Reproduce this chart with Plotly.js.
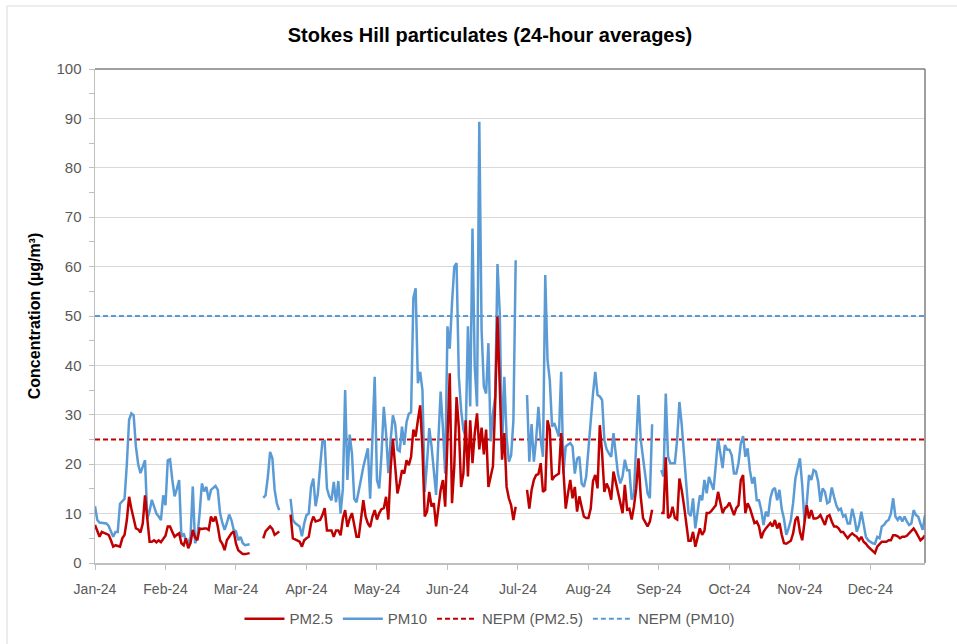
<!DOCTYPE html>
<html>
<head>
<meta charset="utf-8">
<script src="https://cdn.plot.ly/plotly-3.0.1.min.js"></script>
<style>html,body{margin:0;padding:0;background:#fff;}#chart{width:957px;height:644px;}</style>
</head>
<body>
<div id="chart"></div>
<script>
// Daily 24-hour averages, 1 Jan 2024 .. 31 Dec 2024 (366 days), null = no data
const startDate = '2024-01-01';
const pm10 = [
11.5, 8.7, 8.2, 8.1, 8.0, 8.0, 7.5, 6.5, 5.3, 6.3,
6.3, 12, 12.5, 13, 20, 29, 30.3, 29.9, 23.5, 20,
18.2, 19.5, 20.8, 9, 10.5, 12.8, 11.4, 10, 9.4, 8.7,
13.7, 11.7, 20.8, 21, 16.8, 13.5, 15, 16.8, 5.3, 6,
4.5, 4, 5.3, 15.5, 4, 5.3, 10, 16.1, 14.5, 15.4,
12.7, 14.8, 15.2, 15.6, 14.8, 10.1, 8.1, 6.7, 8.1, 9.8,
8.7, 6.7, 6.4, 4.6, 5.3, 4, 3.6, 3.7, 3.8, null,
null, null, null, null, 13.2, 13.7, 17.4, 22.5, 21.2, 14.8,
12, 10.7, null, null, null, null, 13, 8.7, 8.1, 7.8,
7.4, 5.4, 8, 9.7, 10, 15.4, 17.1, 11.5, 14, 19.5,
24.6, 24.7, 15.1, 13.5, 12.7, 16.4, 12.3, 16.6, 10, 15,
35, 16.8, 26, 22.2, 13, 12.3, 15.1, 17, 19.5, 21.5,
23.2, 13, 24.6, 37.7, 16.8, 15.1, 22, 31.6, 26.2, 18.2,
24.9, 29.9, 28.1, 22.9, 22.6, 27.6, 23.9, 28.5, 30.2, 30.5,
53.6, 55.6, 36.4, 38.7, 35, 14.4, 20.2, 27.3, 23.6, 18,
13.8, 24.9, 34.7, 27.3, 18.1, 47.9, 43.4, 52.6, 60, 60.7,
37.7, 31, 27, 25.6, 47.9, 31.7, 67.7, 39.7, 31.7, 89.3,
47.2, 35.7, 34.3, 44.5, 24.6, 30.3, 33.7, 60.5, 50.5, 22.9,
37.7, 25.6, 20.5, 21.8, 28.9, 61.3, null, null, null, null,
34, 20.5, 28.1, 20.5, 25, 31.6, 24.9, 21.5, 58.3, 41.1,
37, 27.6, 28.3, 27, 25.6, 38.7, 18.1, 23.6, 24, 24.3,
23.6, 18.1, 21.1, 21.5, 16.1, 15.4, 17.5, 22.9, 30, 34.3,
38.7, 34, 33.7, 33, 24.9, 23, 22.2, 21.5, 26.3, 21.5,
18, 16.1, 17.5, 20.9, 18.8, 18.8, 12.8, 14.1, 24.2, 34,
24.9, 20.9, 16.8, 14.1, 13.1, 28.1, null, null, null, 18.8,
17.5, 34.3, 21.5, 20.2, 20.2, 20.2, 24.9, 32.6, 28.1, 22.2,
16.8, 10.1, 9.5, 13.1, 7, 10.1, 13.7, 12.7, 16.8, 14.1,
17.4, 16.1, 14.8, 19.8, 25.2, 22.2, 19.2, 23.9, 22.9, 22.9,
21.8, 18.1, 18.1, 20.2, 24.2, 25.7, 21.5, 23.2, 18.8, 16.1,
17.4, 12.7, 12.7, 10.7, 7.7, 10.4, 9.4, 13.1, 14.8, 15.2,
12.7, 14.8, 10.9, 8.9, 5.7, 7, 8.7, 12.1, 17.1, 19.2,
21.2, 15.8, 8.4, 12.1, 17.8, 16.8, 18.8, 18.5, 16.5, 12.4,
15.1, 14.4, 12.1, 12.4, 15.3, 13.4, 11.7, 10.7, 11, 9.4,
9.7, 8, 8, 11, 9, 6.3, 7.7, 10.4, 7.4, 5.3,
4.6, 4.3, 4, 3.9, 5.3, 5, 7.4, 7.7, 8.4, 8.7,
10, 13.1, 9.4, 8.7, 9.4, 8.4, 9.4, 8.4, 7.7, 8,
10.7, 9.7, 9.4, 8, 6.7, 9.7
];
const pm25 = [
7.7, 6.5, 5.3, 6.3, 6.1, 6, 5.7, 4.6, 3.3, 3.6,
3.5, 3.3, 5, 5.7, 8.7, 13.4, 11, 8.7, 7, 6.8,
6.2, 8, 13.7, 9, 4.3, 4.3, 4.6, 4.2, 4.6, 4.2,
5, 5.5, 7.4, 7.4, 6.3, 5.3, 5.7, 6, 4, 3.6,
5, 3, 4, 6.7, 5.2, 4.6, 7, 6.9, 7, 7,
6.7, 9.4, 8.4, 9.4, 7.4, 4.6, 3.9, 2.6, 4.6, 5.3,
6, 6.4, 3.9, 2.6, 2.2, 1.8, 1.8, 1.9, 2, null,
null, null, null, null, 5, 6.4, 6.9, 7.4, 6.9, 5.7,
6, 6.4, null, null, null, null, 9.8, 5, 4.8, 4.6,
4.3, 3.3, 4.6, 5, 5.3, 8, 9.4, 8.4, 8.5, 8.7,
9.7, 11.1, 6.6, 6.6, 6.6, 5.3, 6.6, 6.6, 5.6, 9,
10.7, 7.3, 9, 10.1, 7.3, 5.3, 5.3, 9, 12.7, 9.4,
8, 7.3, 9.4, 10.7, 8.8, 10.1, 10.9, 11.1, 13.4, 8.8,
19, 25, 19.8, 14.1, 16.1, 18.8, 18.1, 20.8, 19.8, 21.5,
27, 25.6, 28.9, 31.9, 23, 9.4, 10.4, 14.4, 11.4, 12.1,
7.4, 11.4, 14.8, 16.8, 11.4, 25, 38.4, 12.1, 19.6, 33.6,
27.4, 15.4, 18.1, 28.9, 17.5, 28.9, 20.2, 26.3, 30.3, 23,
27.4, 22, 27, 15.4, 17.5, 19.6, 32.6, 49.9, 35.7, 20.9,
26.3, 15.4, 13.1, 11.7, 8.7, 11.4, null, null, null, null,
14.8, 11, 14.8, 16.8, 17.8, 18, 20.2, 14.4, 14.8, 28.9,
27, 16.8, 17.5, 17.8, 18.1, 26.3, 18, 11, 14.1, 16.8,
13.1, 15.4, 10.4, 13.5, 11.4, 9.4, 9.1, 9.1, 11, 16.6,
17.8, 15.1, 27.9, 22.2, 14.4, 16.1, 15, 12.8, 18.5, 16.4,
14, 12.1, 10.1, 15.8, 10.8, 11, 8.8, 11.4, 15.1, 21.2,
13.4, 9.1, 8.1, 7.4, 8.4, 10.8, null, null, null, 10.1,
10.1, 21.4, 9.1, 9.5, 11.4, 9.1, 8.8, 17.1, 14.8, 11.7,
7.4, 4.5, 4.5, 6.3, 3.3, 5, 7, 5.7, 6.5, 10.1,
10.1, 10.5, 11.1, 11.7, 14.4, 12.4, 10.1, 11.1, 11.4, 12.2,
10.7, 9.7, 11.1, 11.7, 16.8, 17.8, 10.1, 12.1, 11.1, 9.7,
8.1, 8.4, 7.4, 5, 6.3, 7, 7.5, 8.1, 7.4, 8.7,
7, 8.1, 5.7, 4, 3.9, 4.3, 4.5, 6, 8.7, 9.4,
6.3, 4.6, 8, 11.7, 9, 10.7, 9, 9, 9.2, 9.7,
8.7, 7.7, 9.4, 9.7, 8.4, 7.4, 7.4, 7, 6.3, 6.3,
5.6, 5, 5.6, 6, 5.6, 5.3, 4.6, 5.3, 4.3, 3.9,
3.3, 2.9, 2.3, 2, 3.3, 3.9, 4.3, 4.3, 4.3, 4.6,
4.6, 5.6, 5.6, 5.4, 5, 5.3, 5.3, 5.5, 6, 6.7,
7, 6.3, 5.5, 4.6, 5, 5.6
];
const nepmPM25 = 25;
const nepmPM10 = 50;
const tickDates = ['2024-01-01','2024-02-01','2024-03-03','2024-04-03','2024-05-04','2024-06-04',
                   '2024-07-05','2024-08-05','2024-09-05','2024-10-06','2024-11-06','2024-12-07'];
const tickLabels = ['Jan-24','Feb-24','Mar-24','Apr-24','May-24','Jun-24',
                    'Jul-24','Aug-24','Sep-24','Oct-24','Nov-24','Dec-24'];
const seriesNames = ['PM2.5','PM10','NEPM (PM2.5)','NEPM (PM10)'];

const dates = [];
const t0 = Date.parse(startDate + 'T00:00:00Z');
for (let i = 0; i < pm10.length; i++) {
  dates.push(new Date(t0 + i * 86400000).toISOString().slice(0, 10));
}

const RED = '#C00000', BLUE = '#5B9BD5';
const FONT = 'Liberation Sans, Arial, sans-serif';

const traces = [
  {x: dates, y: pm25, name: seriesNames[0], legendrank: 1, type: 'scatter', mode: 'lines',
   line: {color: RED, width: 2.5}, connectgaps: false},
  {x: dates, y: pm10, name: seriesNames[1], legendrank: 2, type: 'scatter', mode: 'lines',
   line: {color: BLUE, width: 2.5}, connectgaps: false},
  {x: dates, y: dates.map(() => nepmPM25), name: seriesNames[2], legendrank: 3, type: 'scatter', mode: 'lines',
   line: {color: RED, width: 2, dash: '5px,3px'}},
  {x: dates, y: dates.map(() => nepmPM10), name: seriesNames[3], legendrank: 4, type: 'scatter', mode: 'lines',
   line: {color: BLUE, width: 2, dash: '5px,3px'}}
];

// drawing order: reference lines first, then PM10, then PM2.5 on top
const order = [2, 3, 1, 0];
const data = order.map(i => traces[i]);

const layout = {
  width: 957, height: 644,
  paper_bgcolor: '#fff', plot_bgcolor: '#fff',
  margin: {l: 95, r: 32, t: 69, b: 81},
  font: {family: FONT, color: '#595959', size: 13},
  title: {text: 'Stokes Hill particulates (24-hour averages)',
          font: {family: FONT, size: 20, color: '#000', weight: 'bold'},
          x: 0.512, xanchor: 'center', y: 0.945, yanchor: 'middle'},
  showlegend: true,
  legend: {orientation: 'h', xref: 'container', yref: 'container',
           x: 0.512, xanchor: 'center', y: 0.039, yanchor: 'middle',
           traceorder: 'normal', font: {family: FONT, size: 15, color: '#595959'},
           itemwidth: 40},
  xaxis: {type: 'date', range: [dates[0], dates[dates.length - 1]],
          tickvals: tickDates, ticktext: tickLabels,
          showgrid: false, zeroline: false,
          showline: true, linecolor: '#BFBFBF', linewidth: 1.5,
          ticks: 'outside', ticklen: 5, tickcolor: '#BFBFBF', tickwidth: 1,
          ticklabelstandoff: 8, automargin: false,
          tickfont: {family: FONT, size: 14, color: '#595959'}},
  yaxis: {range: [0, 100], dtick: 10, tick0: 0,
          showgrid: true, gridcolor: '#D9D9D9', gridwidth: 1,
          zeroline: false, automargin: false,
          showline: true, linecolor: '#BFBFBF', linewidth: 1.5,
          ticks: 'outside', ticklen: 5, tickcolor: '#BFBFBF',
          minor: {dtick: 5, ticks: 'outside', ticklen: 5, tickcolor: '#BFBFBF', showgrid: false},
          ticklabelstandoff: 4,
          tickfont: {family: FONT, size: 15, color: '#595959'},
          title: {text: 'Concentration (µg/m³)', standoff: 12,
                  font: {family: FONT, size: 16, color: '#000', weight: 'bold'}}},
  shapes: [
    {type: 'line', xref: 'paper', yref: 'paper', x0: 0, x1: 1, y0: 1, y1: 1,
     line: {color: '#7F7F7F', width: 1.5}},
    {type: 'line', xref: 'paper', yref: 'paper', x0: 1, x1: 1, y0: 0, y1: 1,
     line: {color: '#7F7F7F', width: 1.5}},
    {type: 'line', xref: 'paper', yref: 'paper', x0: -0.106, x1: -0.106, y0: -0.2, y1: 1.1275,
     line: {color: '#D9D9D9', width: 1}},
    {type: 'line', xref: 'paper', yref: 'paper', x0: -0.106, x1: 1.1, y0: 1.1275, y1: 1.1275,
     line: {color: '#D9D9D9', width: 1}}
  ]
};

Plotly.newPlot('chart', data, layout, {displayModeBar: false, staticPlot: true});
</script>
</body>
</html>
